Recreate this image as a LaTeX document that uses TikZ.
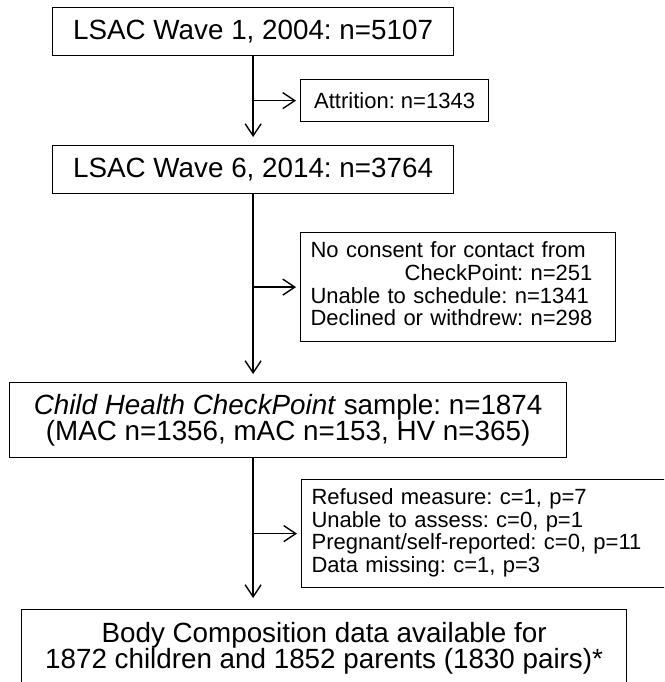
\documentclass[tikz,border=0pt]{standalone}
\usepackage{fontspec}
\setmainfont{Liberation Sans}
\frenchspacing
\usetikzlibrary{arrows.meta}
\tikzset{
    stage/.style={draw=black, line width=1.2pt, anchor=north west, inner sep=0pt,
        align=center, font=\fontsize{27.8}{26}\selectfont},
    excluded/.style={draw=black, line width=1.2pt, anchor=north west, inner xsep=10pt,
        inner ysep=0pt, align=left, font=\fontsize{22}{22}\selectfont},
    flow/.style={draw=black, line width=1.4pt, -{Straight Barb[length=12pt,width=16pt]}},
}

\begin{document}
\begin{tikzpicture}[x=1pt,y=-1pt]
\useasboundingbox (0,0) rectangle (664,682);
\clip (0,0) rectangle (664,682);

% main stages
\node[stage, minimum width=401, minimum height=48] at (52,7) (wave1) {LSAC Wave 1, 2004: n=5107};
\node[stage, minimum width=401, minimum height=48] at (52,145) (wave2) {LSAC Wave 6, 2014: n=3764};
\node[stage, minimum width=557, minimum height=75] at (9,382) (checkpoint)
    {\textit{Child Health CheckPoint} sample: n=1874\\(MAC n=1356, mAC n=153, HV n=365)};
\node[stage, minimum width=605, minimum height=77] at (21,609) (bodycomp)
    {Body Composition data available for\\1872 children and 1852 parents (1830 pairs)*};

% exclusions
\node[excluded, align=center, inner xsep=0pt, minimum width=188, minimum height=42] at (300,79) (attrition) {Attrition: n=1343};
\node[excluded, text width=295, minimum height=109] at (300,232) (noconsent)
    {\begin{tabular}{@{}l@{}}No consent for contact from\\ \multicolumn{1}{@{}r@{}}{CheckPoint: n=251}\\ Unable to schedule: n=1341\\ Declined or withdrew: n=298\end{tabular}};
\node[excluded, text width=351, minimum height=108] at (301,479) (missing)
    {\begin{tabular}{@{}l@{}}Refused measure: c=1, p=7\\ Unable to assess: c=0, p=1\\ Pregnant/self-reported: c=0, p=11\\ Data missing: c=1, p=3\end{tabular}};

\draw[flow, shorten >=8pt] (wave1.south) -- (wave2.north);
\draw[flow, shorten >=4pt] (wave1.south |- attrition.west) -- (attrition.west);
\draw[flow, shorten >=8pt] (wave2.south) -- (wave2.south |- checkpoint.north);
\draw[flow, shorten >=4pt] (wave2.south |- noconsent.west) -- (noconsent.west);
\draw[flow, shorten >=11pt] (wave2.south |- checkpoint.south) -- (wave2.south |- bodycomp.north);
\draw[flow, shorten >=4pt] (wave2.south |- missing.west) -- (missing.west);

\end{tikzpicture}
\end{document}
